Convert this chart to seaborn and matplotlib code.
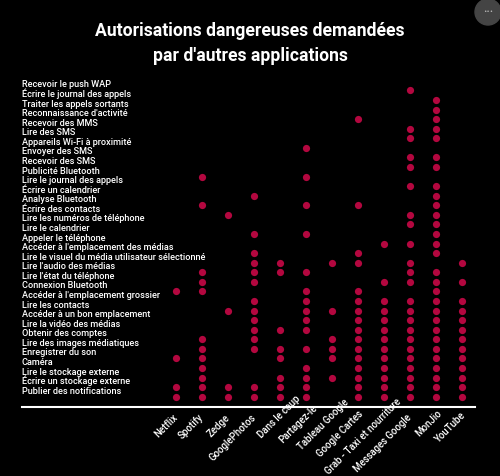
import numpy as np
import pandas as pd
import matplotlib
matplotlib.use("Agg")
import matplotlib.pyplot as plt
import seaborn as sns
from matplotlib.transforms import offset_copy
from matplotlib.patches import Ellipse

title = "Autorisations dangereuses demandées\npar d'autres applications"

apps = ["Netflix", "Spotify", "Zedge", "GooglePhotos", "Dans le coup", "Partagez-le",
        "Tableau Google", "Google Cartes", "Grab - Taxi et nourriture",
        "Messages Google", "MonJio", "YouTube"]

permissions = [
    "Recevoir le push WAP",
    "Écrire le journal des appels",
    "Traiter les appels sortants",
    "Reconnaissance d'activité",
    "Recevoir des MMS",
    "Lire des SMS",
    "Appareils Wi-Fi à proximité",
    "Envoyer des SMS",
    "Recevoir des SMS",
    "Publicité Bluetooth",
    "Lire le journal des appels",
    "Écrire un calendrier",
    "Analyse Bluetooth",
    "Écrire des contacts",
    "Lire les numéros de téléphone",
    "Lire le calendrier",
    "Appeler le téléphone",
    "Accéder à l'emplacement des médias",
    "Lire le visuel du média utilisateur sélectionné",
    "Lire l'audio des médias",
    "Lire l'état du téléphone",
    "Connexion Bluetooth",
    "Accéder à l'emplacement grossier",
    "Lire les contacts",
    "Accéder à un bon emplacement",
    "Lire la vidéo des médias",
    "Obtenir des comptes",
    "Lire des images médiatiques",
    "Enregistrer du son",
    "Caméra",
    "Lire le stockage externe",
    "Écrire un stockage externe",
    "Publier des notifications",
]

# permission indices requested by each app
netflix = [21, 28, 31, 32]
spotify = [9, 12, 19, 20, 21, 26, 27, 28, 29, 30, 31, 32]
zedge = [13, 23, 31, 32]
google_photos = [11, 15, 17, 18, 19, 20, 22, 23, 24, 25, 26, 27, 31, 32]
dans_le_coup = [18, 19, 25, 27, 28, 30, 31, 32]
partagez_le = [6, 9, 12, 15, 19, 21, 22, 23, 24, 25, 27, 29, 30, 31, 32]
tableau_google = [18, 23, 26, 27, 28, 30]
google_cartes = [3, 12, 17, 18, 21, 22, 23, 24, 25, 26, 27, 28, 29, 30, 31, 32]
grab = [16, 20, 22, 23, 24, 25, 26, 27, 28, 29, 30, 31, 32]
messages_google = [0, 4, 5, 7, 8, 10, 13, 14, 16, 18, 19, 20, 22, 23, 24, 25, 26,
                   27, 28, 29, 30, 31, 32]
monjio = [1, 2, 3, 4, 5, 7, 8, 10, 11, 12, 13, 14, 15, 16, 17, 19, 20, 21, 22, 23,
          24, 25, 26, 27, 28, 29, 30, 31, 32]
youtube = [18, 20, 22, 23, 24, 25, 26, 27, 28, 29, 30, 31, 32]

app_rows = [netflix, spotify, zedge, google_photos, dans_le_coup, partagez_le,
            tableau_google, google_cartes, grab, messages_google, monjio, youtube]

# layout: shift of each x label along its own direction (pixels)
xlabel_shift = [0, 0, 0, 0, 27, 13, 22, 5, 22, 0, 6, 3]

rows = []
for ai, (app, idx) in enumerate(zip(apps, app_rows)):
    for r in idx:
        rows.append({"app": app, "x": ai, "permission": permissions[r], "y": r})
df = pd.DataFrame(rows)

sns.set_theme(style="dark")
plt.rcParams["font.family"] = ["Roboto", "DejaVu Sans"]

BG = "black"
DOT = "#b3073f"

fig = plt.figure(figsize=(5, 4.76), dpi=100, facecolor=BG)
ax = fig.add_axes([0.044, 0.145, 0.906, 0.675])
ax.set_facecolor(BG)

sns.scatterplot(data=df, x="x", y="y", color=DOT, s=27, linewidth=0,
                legend=False, ax=ax)

ax.set_xlim(-5.92, 11.5)
ax.set_ylim(33.08, -0.5)
ax.set_xticks([])
ax.set_yticks([])
ax.set_xlabel("")
ax.set_ylabel("")
ax.grid(False)
for side in ["top", "left", "right"]:
    ax.spines[side].set_visible(False)
ax.spines["bottom"].set_color("white")
ax.spines["bottom"].set_linewidth(1.5)

# y labels (left aligned, drawn inside the plot)
ytrans = offset_copy(ax.get_yaxis_transform(), fig=fig, x=0, y=3, units="dots")
for i, p in enumerate(permissions):
    ax.text(0, i, p, transform=ytrans, ha="left", va="baseline", color="white",
            fontsize=6.6, fontweight="medium")

# x labels, rotated
for i, (a, s) in enumerate(zip(apps, xlabel_shift)):
    t = offset_copy(ax.get_xaxis_transform(), fig=fig,
                    x=s * 0.7071, y=-9 + s * 0.7071, units="dots")
    ax.text(i, 0, a, transform=t, rotation=45, rotation_mode="anchor",
            ha="right", va="center", color="white", fontsize=6.9,
            fontweight="medium")

fig.text(0.5, 1 - 43.5 / 476, title, ha="center", va="center", color="white",
         fontsize=12.7, fontweight="bold", linespacing=1.55)

# menu button in the corner
fig.add_artist(Ellipse((488 / 500, 1 - 12 / 476), 26 / 500, 26 / 476,
                       transform=fig.transFigure, color="#444444", zorder=5))
fig.text(488 / 500, 1 - 12 / 476, "•••", ha="center", va="center",
         color="#bbbbbb", fontsize=4, zorder=6, family=["DejaVu Sans"])

fig.savefig("out.png", dpi=100, facecolor=BG)
